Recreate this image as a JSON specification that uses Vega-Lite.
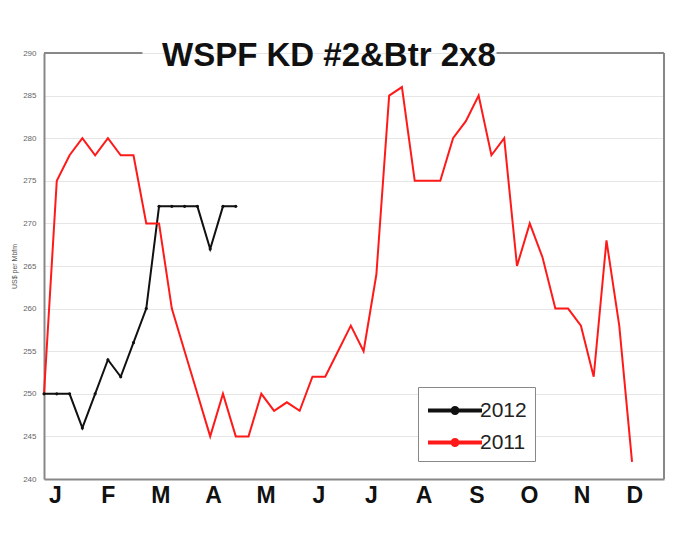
{
  "$schema": "https://vega.github.io/schema/vega-lite/v6.json",
  "width": 620,
  "height": 426,
  "autosize": "none",
  "padding": {"left": 44, "top": 53, "right": 19, "bottom": 57},
  "background": "white",
  "title": {
    "text": "WSPF KD #2&Btr 2x8",
    "font": "Liberation Sans",
    "fontSize": 33,
    "fontWeight": "bold",
    "color": "#111111",
    "anchor": "start",
    "frame": "group",
    "baseline": "alphabetic",
    "dx": 118,
    "dy": 50,
    "offset": 0
  },
  "config": {
    "view": {"stroke": null},
    "font": "Liberation Sans"
  },
  "datasets": {
    "prices": [
      {"series": "2012", "i": 0, "v": 250}, {"series": "2012", "i": 1, "v": 250}, {"series": "2012", "i": 2, "v": 250},
      {"series": "2012", "i": 3, "v": 246}, {"series": "2012", "i": 4, "v": 250}, {"series": "2012", "i": 5, "v": 254},
      {"series": "2012", "i": 6, "v": 252}, {"series": "2012", "i": 7, "v": 256}, {"series": "2012", "i": 8, "v": 260},
      {"series": "2012", "i": 9, "v": 272}, {"series": "2012", "i": 10, "v": 272}, {"series": "2012", "i": 11, "v": 272},
      {"series": "2012", "i": 12, "v": 272}, {"series": "2012", "i": 13, "v": 267}, {"series": "2012", "i": 14, "v": 272},
      {"series": "2012", "i": 15, "v": 272},
      {"series": "2011", "i": 0, "v": 250}, {"series": "2011", "i": 1, "v": 275}, {"series": "2011", "i": 2, "v": 278},
      {"series": "2011", "i": 3, "v": 280}, {"series": "2011", "i": 4, "v": 278}, {"series": "2011", "i": 5, "v": 280},
      {"series": "2011", "i": 6, "v": 278}, {"series": "2011", "i": 7, "v": 278}, {"series": "2011", "i": 8, "v": 270},
      {"series": "2011", "i": 9, "v": 270}, {"series": "2011", "i": 10, "v": 260}, {"series": "2011", "i": 11, "v": 255},
      {"series": "2011", "i": 12, "v": 250}, {"series": "2011", "i": 13, "v": 245}, {"series": "2011", "i": 14, "v": 250},
      {"series": "2011", "i": 15, "v": 245}, {"series": "2011", "i": 16, "v": 245}, {"series": "2011", "i": 17, "v": 250},
      {"series": "2011", "i": 18, "v": 248}, {"series": "2011", "i": 19, "v": 249}, {"series": "2011", "i": 20, "v": 248},
      {"series": "2011", "i": 21, "v": 252}, {"series": "2011", "i": 22, "v": 252}, {"series": "2011", "i": 23, "v": 255},
      {"series": "2011", "i": 24, "v": 258}, {"series": "2011", "i": 25, "v": 255}, {"series": "2011", "i": 26, "v": 264},
      {"series": "2011", "i": 27, "v": 285}, {"series": "2011", "i": 28, "v": 286}, {"series": "2011", "i": 29, "v": 275},
      {"series": "2011", "i": 30, "v": 275}, {"series": "2011", "i": 31, "v": 275}, {"series": "2011", "i": 32, "v": 280},
      {"series": "2011", "i": 33, "v": 282}, {"series": "2011", "i": 34, "v": 285}, {"series": "2011", "i": 35, "v": 278},
      {"series": "2011", "i": 36, "v": 280}, {"series": "2011", "i": 37, "v": 265}, {"series": "2011", "i": 38, "v": 270},
      {"series": "2011", "i": 39, "v": 266}, {"series": "2011", "i": 40, "v": 260}, {"series": "2011", "i": 41, "v": 260},
      {"series": "2011", "i": 42, "v": 258}, {"series": "2011", "i": 43, "v": 252}, {"series": "2011", "i": 44, "v": 268},
      {"series": "2011", "i": 45, "v": 258}, {"series": "2011", "i": 46, "v": 242}
    ]
  },
  "layer": [
    {
      "data": {"name": "prices"},
      "mark": {"type": "line", "strokeWidth": 2},
      "encoding": {
        "x": {
          "field": "i",
          "type": "quantitative",
          "scale": {"domain": [0, 48.5], "nice": false, "zero": false},
          "axis": {
            "title": null,
            "grid": false,
            "ticks": false,
            "domainColor": "#888888",
            "domainWidth": 2,
            "values": [0.86, 4.98, 9.1, 13.22, 17.34, 21.46, 25.58, 29.7, 33.82, 37.94, 42.06, 46.18],
            "labelExpr": "['J','F','M','A','M','J','J','A','S','O','N','D'][round((datum.value-0.86)/4.12)]",
            "labelFont": "Liberation Sans",
            "labelFontSize": 23,
            "labelFontWeight": "bold",
            "labelColor": "#111111",
            "labelPadding": 5,
            "labelFlush": false,
            "labelOverlap": false
          }
        },
        "y": {
          "field": "v",
          "type": "quantitative",
          "scale": {"domain": [240, 290], "nice": false, "zero": false},
          "axis": {
            "title": "US$ per Mbfm",
            "titleFontSize": 7,
            "titleFontWeight": "normal",
            "titleColor": "#555555",
            "titlePadding": 5,
            "values": [240, 245, 250, 255, 260, 265, 270, 275, 280, 285, 290],
            "ticks": false,
            "grid": true,
            "gridColor": "#e6e6e6",
            "gridWidth": 1,
            "domainColor": "#888888",
            "domainWidth": 2,
            "labelFontSize": 8,
            "labelColor": "#666666",
            "labelPadding": 8
          }
        },
        "detail": {"field": "series"},
        "color": {
          "field": "series",
          "type": "nominal",
          "scale": {"domain": ["2012", "2011"], "range": ["#111111", "#ff1a1a"]},
          "legend": {
            "title": null,
            "orient": "none",
            "legendX": 374,
            "legendY": 334,
            "direction": "vertical",
            "fillColor": "white",
            "strokeColor": "#888888",
            "padding": 8,
            "symbolType": "M-1,0H3M1.18,0A0.18,0.18,0,1,1,0.82,0A0.18,0.18,0,1,1,1.18,0",
            "symbolSize": 729,
            "symbolStrokeWidth": 4,
            "labelFont": "Liberation Sans",
            "labelFontSize": 21,
            "labelColor": "#222222",
            "labelOffset": 23,
            "rowPadding": 6
          }
        }
      }
    },
    {
      "data": {"name": "prices"},
      "transform": [{"filter": "datum.series == '2012'"}],
      "mark": {"type": "point", "filled": true, "size": 10, "opacity": 1, "color": "#111111"},
      "encoding": {
        "x": {"field": "i", "type": "quantitative"},
        "y": {"field": "v", "type": "quantitative"}
      }
    },
    {
      "data": {"values": [{}]},
      "mark": {"type": "rule", "color": "#888888", "strokeWidth": 2},
      "encoding": {"x": {"datum": 48.5, "type": "quantitative"}, "y": {"datum": 240, "type": "quantitative"}, "y2": {"datum": 290}}
    },
    {
      "data": {"values": [{}]},
      "mark": {"type": "rule", "color": "#888888", "strokeWidth": 2},
      "encoding": {"x": {"datum": 0, "type": "quantitative"}, "x2": {"datum": 7.7}, "y": {"datum": 290, "type": "quantitative"}}
    },
    {
      "data": {"values": [{}]},
      "mark": {"type": "rule", "color": "#888888", "strokeWidth": 2},
      "encoding": {"x": {"datum": 35.4, "type": "quantitative"}, "x2": {"datum": 48.5}, "y": {"datum": 290, "type": "quantitative"}}
    }
  ]
}
